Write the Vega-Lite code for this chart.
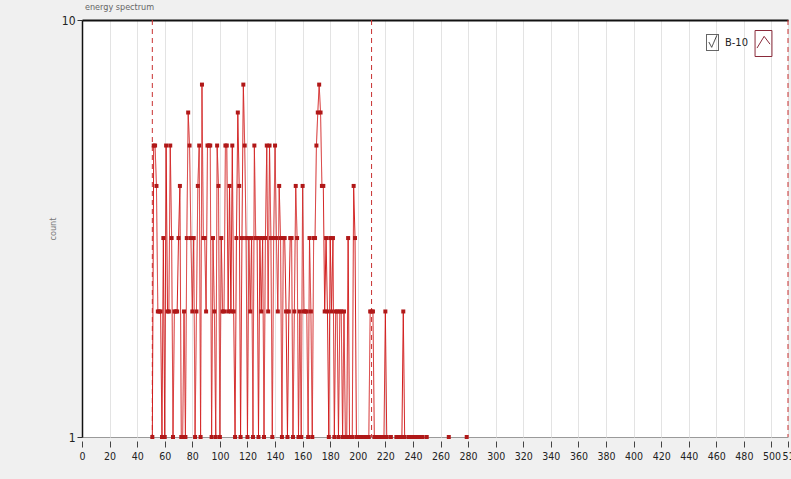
{
  "$schema": "https://vega.github.io/schema/vega-lite/v6.json",
  "width": 706,
  "height": 417,
  "autosize": {"type": "none"},
  "padding": {"left": 82, "top": 20, "right": 3, "bottom": 42},
  "background": "#f0f0f0",
  "title": {"text": "energy spectrum", "anchor": "start", "frame": "group", "fontSize": 9, "font": "'DejaVu Sans Condensed', 'DejaVu Sans', sans-serif", "color": "#666", "fontWeight": "normal", "offset": 2, "dx": 3},
  "config": {
    "view": {"fill": "white", "stroke": "#9a9a9a", "strokeWidth": 1},
    "axis": {"labelFont": "'Liberation Sans Narrow', 'DejaVu Sans Condensed', sans-serif", "titleFont": "'DejaVu Sans Condensed', 'DejaVu Sans', sans-serif"},
    "legend": {"labelFont": "'Liberation Sans Narrow', 'DejaVu Sans Condensed', sans-serif"}
  },
  "data": {"values": [
    {"ch":51,"c":1},{"ch":52,"c":5},{"ch":53,"c":5},{"ch":54,"c":4},{"ch":55,"c":2},{"ch":56,"c":2},{"ch":57,"c":2},{"ch":58,"c":1},{"ch":59,"c":3},{"ch":60,"c":1},
    {"ch":61,"c":5},{"ch":62,"c":2},{"ch":63,"c":2},{"ch":64,"c":5},{"ch":65,"c":3},{"ch":66,"c":1},{"ch":67,"c":2},{"ch":68,"c":2},{"ch":69,"c":2},{"ch":70,"c":3},
    {"ch":71,"c":4},{"ch":72,"c":1},{"ch":73,"c":1},{"ch":74,"c":2},{"ch":75,"c":1},{"ch":76,"c":3},{"ch":77,"c":6},{"ch":78,"c":5},{"ch":79,"c":3},{"ch":80,"c":2},
    {"ch":81,"c":3},{"ch":82,"c":1},{"ch":83,"c":2},{"ch":84,"c":4},{"ch":85,"c":5},{"ch":86,"c":1},{"ch":87,"c":7},{"ch":88,"c":3},{"ch":89,"c":3},{"ch":90,"c":2},
    {"ch":91,"c":5},{"ch":92,"c":5},{"ch":93,"c":5},{"ch":94,"c":1},{"ch":95,"c":3},{"ch":96,"c":2},{"ch":97,"c":1},{"ch":98,"c":5},{"ch":99,"c":4},{"ch":100,"c":1},
    {"ch":101,"c":3},{"ch":102,"c":2},{"ch":103,"c":2},{"ch":104,"c":5},{"ch":105,"c":5},{"ch":106,"c":2},{"ch":107,"c":4},{"ch":108,"c":2},{"ch":109,"c":5},{"ch":110,"c":2},
    {"ch":111,"c":1},{"ch":112,"c":3},{"ch":113,"c":6},{"ch":114,"c":4},{"ch":115,"c":1},{"ch":116,"c":3},{"ch":117,"c":7},{"ch":118,"c":5},{"ch":119,"c":3},{"ch":120,"c":1},
    {"ch":121,"c":3},{"ch":122,"c":2},{"ch":123,"c":3},{"ch":124,"c":1},{"ch":125,"c":5},{"ch":126,"c":3},{"ch":127,"c":3},{"ch":128,"c":1},{"ch":129,"c":3},{"ch":130,"c":2},
    {"ch":131,"c":3},{"ch":132,"c":1},{"ch":133,"c":3},{"ch":134,"c":5},{"ch":135,"c":2},{"ch":136,"c":5},{"ch":137,"c":3},{"ch":138,"c":1},{"ch":139,"c":3},{"ch":140,"c":5},
    {"ch":141,"c":3},{"ch":142,"c":2},{"ch":143,"c":4},{"ch":144,"c":3},{"ch":145,"c":1},{"ch":146,"c":3},{"ch":147,"c":3},{"ch":148,"c":2},{"ch":149,"c":1},{"ch":150,"c":2},
    {"ch":151,"c":3},{"ch":152,"c":3},{"ch":153,"c":1},{"ch":154,"c":2},{"ch":155,"c":4},{"ch":156,"c":3},{"ch":157,"c":1},{"ch":158,"c":2},{"ch":159,"c":1},{"ch":160,"c":4},
    {"ch":161,"c":2},{"ch":162,"c":2},{"ch":163,"c":2},{"ch":164,"c":1},{"ch":165,"c":3},{"ch":166,"c":2},{"ch":167,"c":1},{"ch":168,"c":3},{"ch":169,"c":3},{"ch":170,"c":5},
    {"ch":171,"c":6},{"ch":172,"c":7},{"ch":173,"c":6},{"ch":174,"c":4},{"ch":175,"c":4},{"ch":176,"c":2},{"ch":177,"c":3},{"ch":178,"c":2},{"ch":179,"c":1},{"ch":180,"c":3},
    {"ch":181,"c":2},{"ch":182,"c":3},{"ch":183,"c":1},{"ch":184,"c":2},{"ch":185,"c":2},{"ch":186,"c":1},{"ch":187,"c":2},{"ch":188,"c":2},{"ch":189,"c":1},{"ch":190,"c":2},
    {"ch":191,"c":1},{"ch":192,"c":1},{"ch":193,"c":3},{"ch":194,"c":1},{"ch":195,"c":1},{"ch":196,"c":1},{"ch":197,"c":4},{"ch":198,"c":3},{"ch":199,"c":1},{"ch":200,"c":1},
    {"ch":201,"c":1},{"ch":202,"c":1},{"ch":203,"c":1},{"ch":204,"c":1},{"ch":205,"c":1},{"ch":206,"c":1},{"ch":207,"c":1},{"ch":208,"c":1},{"ch":209,"c":2},{"ch":210,"c":2},
    {"ch":211,"c":2},{"ch":212,"c":1},{"ch":213,"c":1},{"ch":214,"c":1},{"ch":215,"c":1},{"ch":216,"c":1},{"ch":217,"c":1},{"ch":218,"c":1},{"ch":219,"c":1},{"ch":220,"c":2},
    {"ch":221,"c":1},{"ch":222,"c":null},{"ch":223,"c":null},{"ch":224,"c":1},{"ch":225,"c":null},{"ch":226,"c":null},{"ch":227,"c":null},{"ch":228,"c":1},{"ch":229,"c":1},{"ch":230,"c":1},
    {"ch":231,"c":null},{"ch":232,"c":1},{"ch":233,"c":2},{"ch":234,"c":1},{"ch":235,"c":null},{"ch":236,"c":null},{"ch":237,"c":1},{"ch":238,"c":null},{"ch":239,"c":1},{"ch":240,"c":1},
    {"ch":241,"c":null},{"ch":242,"c":1},{"ch":243,"c":null},{"ch":244,"c":1},{"ch":245,"c":1},{"ch":246,"c":null},{"ch":247,"c":1},{"ch":248,"c":null},{"ch":249,"c":null},{"ch":250,"c":1},
    {"ch":251,"c":null},{"ch":266,"c":1},{"ch":267,"c":null},{"ch":279,"c":1}
  ]},
  "layer": [
    {
      "data": {"values": [{"x": 51}, {"x": 210}, {"x": 512}]},
      "mark": {"type": "rule", "stroke": "#c83030", "strokeDash": [5, 4], "strokeWidth": 1},
      "encoding": {
        "x": {"field": "x", "type": "quantitative", "scale": {"domain": [0, 512], "nice": false, "zero": false},
          "axis": {"orient": "top", "labels": false, "ticks": false, "grid": false, "domain": true, "domainColor": "#111", "domainWidth": 2, "title": null}}
      }
    },
    {
      "encoding": {
        "x": {"field": "ch", "type": "quantitative", "scale": {"domain": [0, 512], "nice": false, "zero": false},
          "axis": {"orient": "bottom", "values": [0,20,40,60,80,100,120,140,160,180,200,220,240,260,280,300,320,340,360,380,400,420,440,460,480,500,512],
            "offset": 4, "domain": false, "tickSize": 6, "tickColor": "#444", "labelFontSize": 10.5, "labelColor": "#222", "labelPadding": 4,
            "labelOffset": {"condition": {"test": "datum.value == 512", "value": 3}, "value": 0},
            "grid": true, "gridColor": "#e3e3e3", "title": null, "labelFlush": false, "labelOverlap": false}},
        "y": {"field": "c", "type": "quantitative", "scale": {"type": "log", "domain": [1, 10], "nice": false},
          "axis": {"values": [1, 10], "format": "d", "domain": true, "domainColor": "#111", "domainWidth": 1.5, "tickSize": 5, "tickColor": "#333",
            "labelFontSize": 12, "labelColor": "#222", "labelPadding": 2, "grid": false, "title": "count", "titleFontSize": 9, "titleColor": "#777",
            "titleFontWeight": "normal", "titlePadding": 4}}
      },
      "layer": [
        {
          "mark": {"type": "line", "color": "#d21c1c", "strokeWidth": 1, "invalid": "break-paths-filter-domains"},
          "encoding": {
            "strokeDash": {"datum": "B-10", "type": "nominal", "scale": {"range": [[1, 0]]},
              "legend": {"orient": "none", "legendX": 622, "legendY": 14, "title": null, "padding": 0, "labelFontSize": 11, "labelColor": "#222", "labelOffset": 4,
                "symbolSize": 256, "symbolType": "M-0.75,-1H0.75V1H-0.75Z M-0.45,-0.05L-0.1,0.6L0.55,-0.9",
                "symbolStrokeColor": "#333", "symbolFillColor": "transparent", "symbolStrokeWidth": 1, "symbolDash": [1, 0],
                "encode": {"symbols": {"update": {"stroke": {"value": "#333"}, "fill": {"value": "transparent"}, "strokeDash": {"value": [1, 0]}}}}}},
            "opacity": {"datum": "icon", "type": "ordinal", "scale": {"range": [1, 1]},
              "legend": {"orient": "none", "legendX": 668, "legendY": 10, "title": null, "padding": 0, "labelExpr": "''", "symbolSize": 676,
                "symbolType": "M-0.65,-1H0.65V1H-0.65Z M-0.5,0.35L0.05,-0.55L0.5,0.05",
                "symbolStrokeColor": "#8a2a3a", "symbolFillColor": "transparent", "symbolStrokeWidth": 1,
                "encode": {"symbols": {"update": {"stroke": {"value": "#8a2a3a"}, "fill": {"value": "transparent"}, "strokeWidth": {"value": 1}}}}}}
          }
        },
        {
          "mark": {"type": "point", "filled": true, "size": 16, "shape": "square", "color": "#b01818", "opacity": 1}
        }
      ]
    }
  ]
}
